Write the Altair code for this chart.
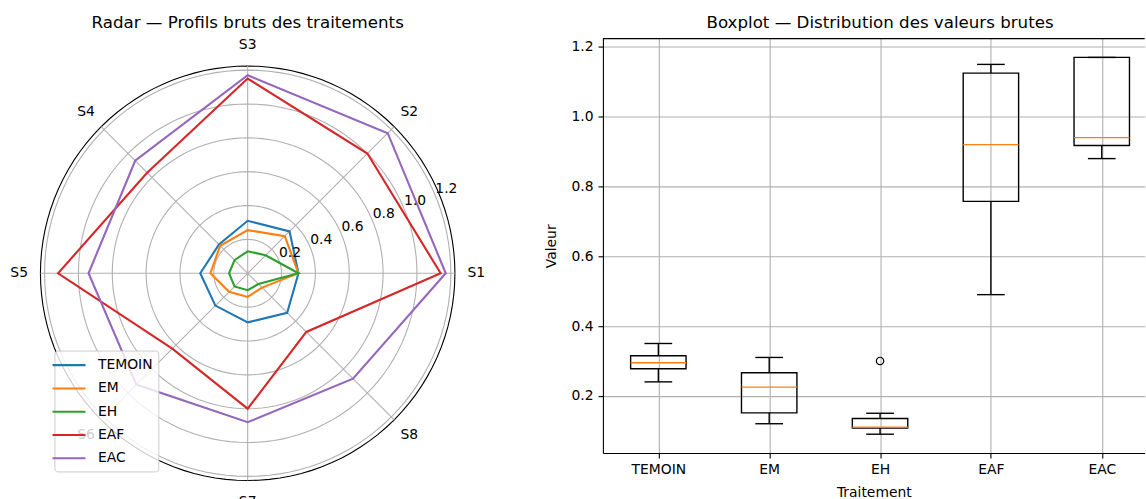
import altair as alt
import pandas as pd

# ---------------- data ----------------
treatments = ["TEMOIN", "EM", "EH", "EAF", "EAC"]
samples = ["S1", "S2", "S3", "S4", "S5", "S6", "S7", "S8"]
temoin = [0.30, 0.35, 0.31, 0.24, 0.28, 0.27, 0.29, 0.33]
em = [0.30, 0.31, 0.255, 0.23, 0.22, 0.155, 0.14, 0.12]
eh = [0.30, 0.15, 0.13, 0.11, 0.11, 0.11, 0.10, 0.09]
eaf = [1.14, 1.00, 1.15, 0.84, 1.12, 0.63, 0.80, 0.49]
eac = [1.17, 1.17, 1.17, 0.94, 0.94, 0.93, 0.88, 0.88]
colors = ["#1f77b4", "#ff7f0e", "#2ca02c", "#d62728", "#9467bd"]
ring_ticks = [0.2, 0.4, 0.6, 0.8, 1.0, 1.2]
ring_labels = ["0.2", "0.4", "0.6", "0.8", "1.0", "1.2"]
value_ticks = [0.2, 0.4, 0.6, 0.8, 1.0, 1.2]

RMAX = 1.2242          # outer circle of the radar
LABEL_R = 1.35         # radius of the S1..S8 labels
FONT = "DejaVu Sans"
GRID = "#b0b0b0"

all_vals = [temoin, em, eh, eaf, eac]
rows = []
for t, vals in zip(treatments, all_vals):
    for k, v in enumerate(vals):
        rows.append({"treat": t, "i": k, "s": samples[k], "v": v, "pos": treatments.index(t) + 1})
long_df = pd.DataFrame(rows)

ring_rows = []
for r in ring_ticks + [RMAX]:
    for a in range(0, 361, 3):
        ring_rows.append({"r": r, "a": a, "outer": r == RMAX})
ring_df = pd.DataFrame(ring_rows)

spoke_df = pd.DataFrame({"i": list(range(8)), "s": samples})
rlab_df = pd.DataFrame({"r": ring_ticks, "lab": ring_labels})
spine_df = pd.DataFrame({"k": [0]})

# ---------------- radar ----------------
xs = alt.Scale(domain=[-RMAX, RMAX], nice=False, zero=False, padding=0)
ys = alt.Scale(domain=[-1.062, 1.3864], nice=False, zero=False, padding=0)

rings = alt.Chart(ring_df).transform_calculate(
    x="datum.r*cos(datum.a*PI/180)", y="datum.r*sin(datum.a*PI/180)"
).mark_line(strokeWidth=1.1).encode(
    x=alt.X("x:Q", scale=xs, axis=None),
    y=alt.Y("y:Q", scale=ys, axis=None),
    detail="r:Q",
    order="a:Q",
    color=alt.condition("datum.outer", alt.value("black"), alt.value(GRID)),
)

spokes = alt.Chart(spoke_df).transform_calculate(
    zero="0", xe=f"{RMAX}*cos(datum.i*PI/4)", ye=f"{RMAX}*sin(datum.i*PI/4)"
).mark_rule(color=GRID, strokeWidth=1.1).encode(
    x=alt.X("zero:Q", scale=xs, axis=None), x2="xe:Q",
    y=alt.Y("zero:Q", scale=ys, axis=None), y2="ye:Q",
)

lines = alt.Chart(long_df).transform_calculate(
    x="datum.v*cos(datum.i*PI/4)", y="datum.v*sin(datum.i*PI/4)"
).mark_line(interpolate="linear-closed", strokeWidth=2.1).encode(
    x=alt.X("x:Q", scale=xs, axis=None),
    y=alt.Y("y:Q", scale=ys, axis=None),
    order="i:Q",
    color=alt.Color(
        "treat:N",
        scale=alt.Scale(domain=treatments, range=colors),
        legend=alt.Legend(
            title=None, orient="none", legendX=14, legendY=312.4,
            symbolType="M-2.2,0H2.2", symbolSize=225, symbolStrokeWidth=2.1,
            symbolFillColor="transparent",
            labelFontSize=13.9, labelFont=FONT, labelColor="black",
            labelOffset=20, rowPadding=7.3, padding=5.6,
            fillColor="rgba(255,255,255,0.8)", strokeColor="#cccccc",
            cornerRadius=3,
        ),
    ),
)

theta_labels = alt.Chart(spoke_df).transform_calculate(
    x=f"{LABEL_R}*cos(datum.i*PI/4)", y=f"{LABEL_R}*sin(datum.i*PI/4)"
).mark_text(fontSize=13.9, font=FONT, color="black", align="center", baseline="middle").encode(
    x=alt.X("x:Q", scale=xs, axis=None),
    y=alt.Y("y:Q", scale=ys, axis=None),
    text="s:N",
)

r_labels = alt.Chart(rlab_df).transform_calculate(
    x="datum.r*cos(PI/8)", y="datum.r*sin(PI/8)"
).mark_text(fontSize=13.9, font=FONT, color="black", align="left", baseline="bottom").encode(
    x=alt.X("x:Q", scale=xs, axis=None),
    y=alt.Y("y:Q", scale=ys, axis=None),
    text="lab:N",
)

radar = alt.layer(rings, spokes, lines, theta_labels, r_labels).properties(
    width=415, height=415,
    view=alt.ViewBackground(stroke="transparent"),
    title=alt.TitleParams("Radar — Profils bruts des traitements", fontSize=16.7,
                          font=FONT, fontWeight="normal", color="black",
                          baseline="alphabetic", offset=-6.9, anchor="middle"),
)

# ---------------- boxplot ----------------
BOX_W = 542.5
PX_PER_UNIT = 111.0
bx = alt.Scale(domain=[0.5, 0.5 + BOX_W / PX_PER_UNIT], nice=False, zero=False, padding=0)
by = alt.Scale(domain=[0.036, 1.224], nice=False, zero=False, padding=0)

label_expr = "['', 'TEMOIN', 'EM', 'EH', 'EAF', 'EAC'][datum.value]"
x_axis = alt.Axis(values=[1, 2, 3, 4, 5], labelExpr=label_expr, title="Traitement",
                  grid=True, gridColor=GRID, gridWidth=1.1,
                  domain=True, domainColor="black", domainWidth=1.1,
                  tickSize=4.9, tickColor="black", tickWidth=1.1,
                  labelFontSize=13.9, labelFont=FONT, labelColor="black", labelPadding=4.9,
                  titleFontSize=13.9, titleFont=FONT, titleFontWeight="normal",
                  titleColor="black", titlePadding=8.5)
y_axis = alt.Axis(values=value_ticks, format=".1f", title="Valeur",
                  grid=True, gridColor=GRID, gridWidth=1.1,
                  domain=True, domainColor="black", domainWidth=1.1,
                  tickSize=4.9, tickColor="black", tickWidth=1.1,
                  labelFontSize=13.9, labelFont=FONT, labelColor="black", labelPadding=4.9,
                  titleFontSize=13.9, titleFont=FONT, titleFontWeight="normal",
                  titleColor="black", titlePadding=12.6)

base = alt.Chart(long_df)
stats = base.transform_joinaggregate(
    q1="q1(v)", q3="q3(v)", groupby=["pos"]
).transform_calculate(
    lo="datum.q1 - 1.5*(datum.q3 - datum.q1)", hi="datum.q3 + 1.5*(datum.q3 - datum.q1)"
)
inl = stats.transform_filter("datum.v >= datum.lo && datum.v <= datum.hi").transform_aggregate(
    wmin="min(v)", wmax="max(v)", q1="min(q1)", q3="min(q3)", groupby=["pos"]
)

lw = 1.39
box = inl.mark_bar(orient="vertical", size=55.5, fillOpacity=0, stroke="black", strokeWidth=lw).encode(
    x=alt.X("pos:Q", scale=bx, axis=x_axis), y=alt.Y("q1:Q", scale=by, axis=y_axis), y2="q3:Q")
# top spine of the plot frame (the right side is cut by the page edge)
top_spine = alt.Chart(spine_df).mark_rule(color="black", strokeWidth=1.1).encode(
    x=alt.value(0), x2=alt.value(BOX_W), y=alt.value(0), y2=alt.value(0))
whisk_lo = inl.mark_rule(color="black", strokeWidth=lw).encode(
    x=alt.X("pos:Q", scale=bx), y=alt.Y("wmin:Q", scale=by), y2="q1:Q")
whisk_hi = inl.mark_rule(color="black", strokeWidth=lw).encode(
    x=alt.X("pos:Q", scale=bx), y=alt.Y("q3:Q", scale=by), y2="wmax:Q")
cap_lo = inl.mark_tick(orient="horizontal", size=27.75, thickness=lw, color="black", opacity=1).encode(
    x=alt.X("pos:Q", scale=bx), y=alt.Y("wmin:Q", scale=by))
cap_hi = inl.mark_tick(orient="horizontal", size=27.75, thickness=lw, color="black", opacity=1).encode(
    x=alt.X("pos:Q", scale=bx), y=alt.Y("wmax:Q", scale=by))
med = base.transform_aggregate(med="median(v)", groupby=["pos"]).mark_tick(
    orient="horizontal", size=55.5, thickness=lw, color="#ff7f0e", opacity=1).encode(
    x=alt.X("pos:Q", scale=bx), y=alt.Y("med:Q", scale=by))
fliers = stats.transform_filter("datum.v < datum.lo || datum.v > datum.hi").mark_point(
    shape="circle", filled=False, size=55, color="black", strokeWidth=1.2, opacity=1).encode(
    x=alt.X("pos:Q", scale=bx), y=alt.Y("v:Q", scale=by))

boxplot = alt.layer(box, whisk_lo, whisk_hi, cap_lo, cap_hi, med, fliers, top_spine).properties(
    width=BOX_W, height=415,
    view=alt.ViewBackground(stroke="transparent"),
    title=alt.TitleParams("Boxplot — Distribution des valeurs brutes", fontSize=16.7,
                          font=FONT, fontWeight="normal", color="black",
                          baseline="alphabetic", offset=-6.9, anchor="middle", dx=6.25),
)

chart = alt.hconcat(radar, boxplot, spacing=148.2, bounds="flush").resolve_legend(
    color="independent"
).properties(
    padding={"left": 9.5, "top": 13.3, "right": 0, "bottom": 0},
    background="white",
).configure_view(stroke=None).configure(font=FONT)

chart.save("out.html", embed_options={"renderer": "svg", "actions": False})
